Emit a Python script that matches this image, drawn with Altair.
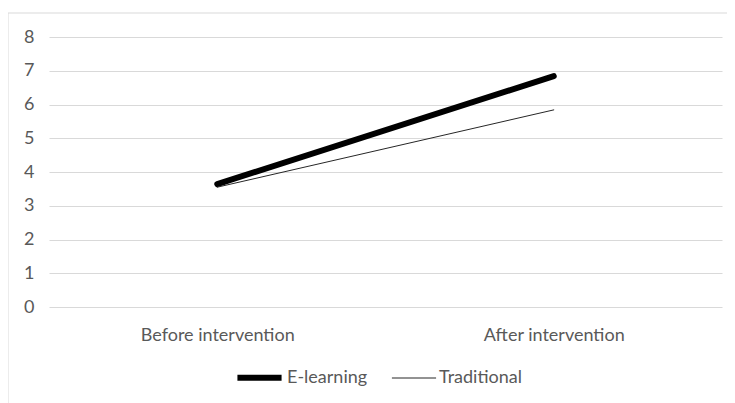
import altair as alt
import pandas as pd

categories = ["Before intervention", "After intervention"]
series = ["E-learning", "Traditional"]
elearning = [3.64, 6.84]
traditional = [3.55, 5.84]
y_ticks = [0, 1, 2, 3, 4, 5, 6, 7, 8]

rows = []
for name, vals in zip(series, [elearning, traditional]):
    for c, v in zip(categories, vals):
        rows.append({"Phase": c, "Group": name, "Score": v})
df = pd.DataFrame(rows)

FONT = "Lato"
GRAY = "#595959"
FS = 18

legend = alt.Legend(orient="none", legendX=185, legendY=315,
                    direction="horizontal", symbolType="stroke",
                    symbolSize=1950, labelFontSize=FS, labelColor=GRAY,
                    labelFont=FONT, labelOffset=2, columnPadding=21)

frame = alt.Chart(pd.DataFrame({"a": [0]})).mark_rect(
    fill=None, stroke="#d9d9d9", strokeWidth=1
).encode(
    x=alt.value(-41), x2=alt.value(700), y=alt.value(-24), y2=alt.value(420)
)

lines = alt.Chart(df).mark_line(strokeCap="round").encode(
    x=alt.X("Phase:N", sort=categories, title=None,
            scale=alt.Scale(paddingInner=0, paddingOuter=0.5),
            axis=alt.Axis(labelAngle=0, ticks=False, domain=False, labelPadding=19,
                          labelFontSize=FS, labelColor=GRAY, labelFont=FONT, grid=False)),
    y=alt.Y("Score:Q", title=None,
            scale=alt.Scale(domain=[0, 8], nice=False),
            axis=alt.Axis(values=y_ticks, ticks=False, domain=False, labelPadding=15,
                          labelFontSize=FS, labelColor=GRAY, labelFont=FONT,
                          gridColor="#d9d9d9", gridWidth=1)),
    color=alt.Color("Group:N", sort=series, title=None,
                    scale=alt.Scale(domain=series, range=["#000000", "#262626"]),
                    legend=legend),
    strokeWidth=alt.StrokeWidth("Group:N", sort=series, title=None,
                                scale=alt.Scale(domain=series, range=[6, 1]),
                                legend=legend),
)

chart = alt.layer(frame, lines).properties(
    width=673, height=270,
    autosize=alt.AutoSizeParams(type="none"),
    padding={"left": 41, "top": 29, "right": 5, "bottom": 96},
    background="white",
).configure_view(stroke=None)

chart.save("out.html", embed_options={"renderer": "svg", "actions": False})
